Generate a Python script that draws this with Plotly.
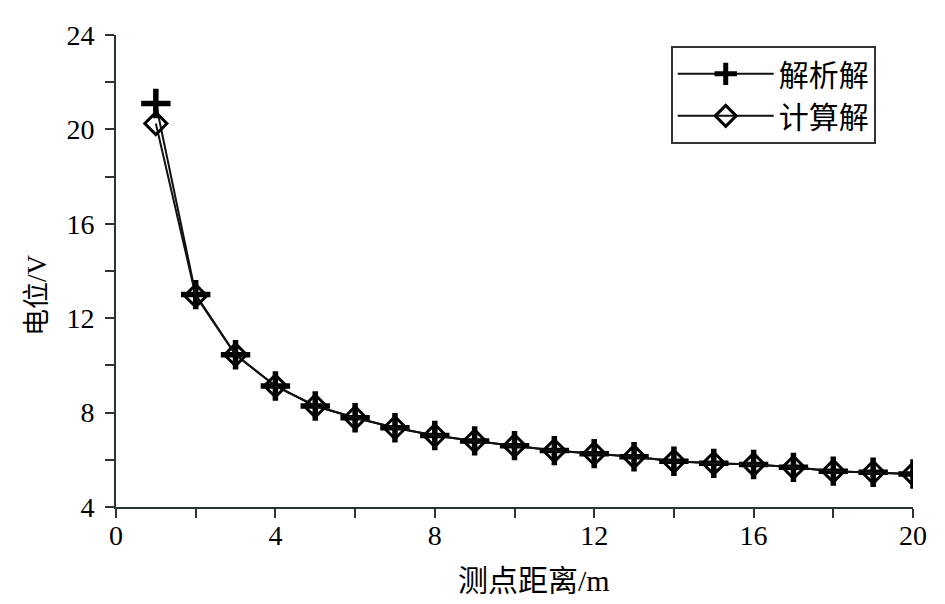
import plotly.graph_objects as go

x_points = list(range(1, 21))
analytic = [21.1, 13.0, 10.45, 9.13, 8.28, 7.78, 7.36, 7.03, 6.8, 6.6,
            6.39, 6.26, 6.13, 5.94, 5.85, 5.8, 5.68, 5.52, 5.47, 5.4]
computed = [20.25, 12.95, 10.45, 9.13, 8.28, 7.78, 7.36, 7.03, 6.8, 6.6,
            6.39, 6.26, 6.13, 5.94, 5.85, 5.8, 5.68, 5.52, 5.47, 5.4]
series_names = ["解析解", "计算解"]
x_title = "测点距离/m"
y_title = "电位/V"

font_family = "Liberation Serif, Noto Sans CJK SC, serif"
axis_color = "#2b3535"

fig = go.Figure()
fig.add_trace(go.Scatter(
    x=x_points, y=analytic, name=series_names[0], mode="lines+markers",
    line=dict(color="#111", width=2),
    marker=dict(symbol="cross-thin", size=21, color="#000",
                line=dict(color="#000", width=5.5)),
))
fig.add_trace(go.Scatter(
    x=x_points, y=computed, name=series_names[1], mode="lines+markers",
    line=dict(color="#111", width=2),
    marker=dict(symbol="diamond-open", size=17, color="#000",
                line=dict(color="#000", width=3)),
))

fig.update_layout(
    width=937, height=596,
    margin=dict(l=108, r=32, t=23, b=97),
    paper_bgcolor="white", plot_bgcolor="white",
    font=dict(family=font_family, size=28, color="#000"),
    showlegend=True,
    legend=dict(
        x=0.696, y=0.977, xanchor="left", yanchor="top",
        bordercolor="#333", borderwidth=2, bgcolor="white",
        font=dict(family=font_family, size=30),
        itemwidth=96, entrywidth=210, tracegroupgap=0,
    ),
    xaxis=dict(
        range=[0, 20], tick0=0, dtick=4, ticks="outside", ticklen=9,
        tickwidth=2, tickcolor=axis_color, showline=True, linecolor=axis_color,
        linewidth=2, showgrid=False, zeroline=False, ticklabelstandoff=-7,
        tickfont=dict(family=font_family, size=28),
        minor=dict(tick0=0, dtick=2, ticks="outside", ticklen=9,
                   tickwidth=2, tickcolor=axis_color, showgrid=False),
    ),
    yaxis=dict(
        range=[4, 24], tick0=4, dtick=4, ticks="outside", ticklen=9,
        tickwidth=2, tickcolor=axis_color, showline=True, linecolor=axis_color,
        linewidth=2, showgrid=False, zeroline=False, ticklabelstandoff=5,
        tickfont=dict(family=font_family, size=28),
        minor=dict(tick0=4, dtick=2, ticks="outside", ticklen=9,
                   tickwidth=2, tickcolor=axis_color, showgrid=False),
    ),
    annotations=[
        dict(text=x_title, xref="paper", yref="paper", x=0.525, y=-0.155,
             xanchor="center", yanchor="middle", showarrow=False,
             font=dict(family=font_family, size=30)),
        dict(text=y_title, xref="paper", yref="paper", x=-0.1, y=0.45,
             xanchor="center", yanchor="middle", showarrow=False, textangle=-90,
             font=dict(family=font_family, size=27)),
    ],
)

fig.write_html("out.html")
